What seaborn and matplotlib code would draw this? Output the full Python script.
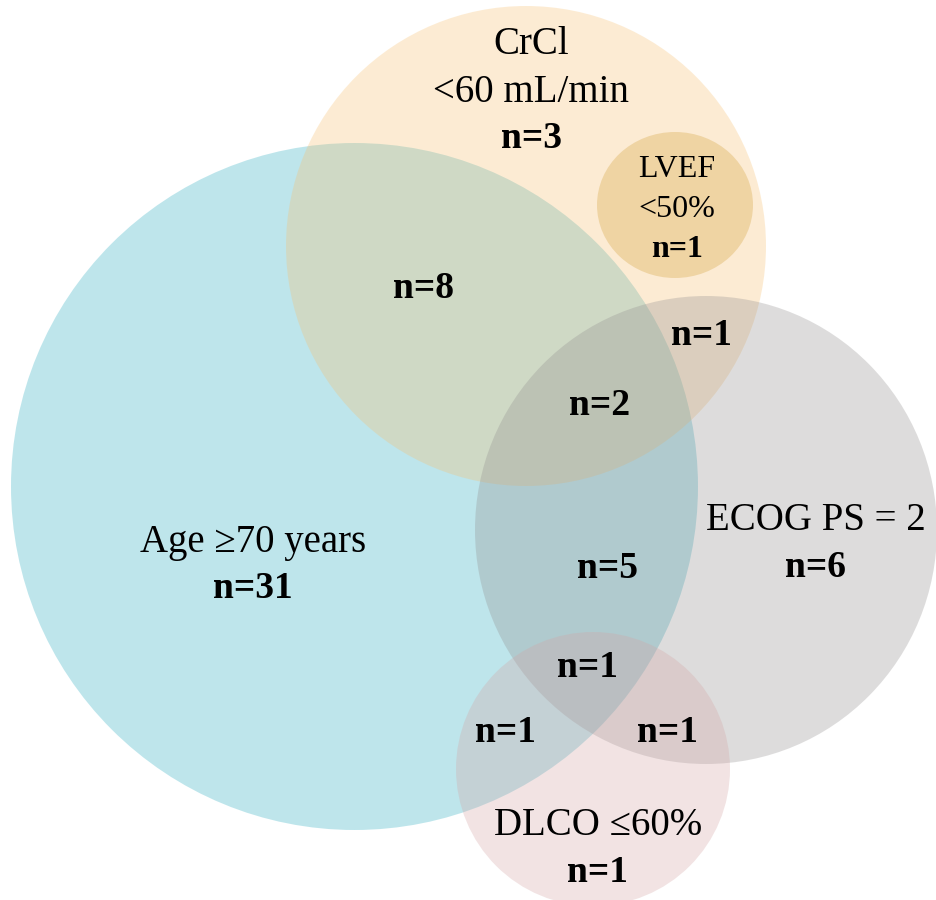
import matplotlib
matplotlib.use("Agg")
import matplotlib.pyplot as plt
from matplotlib.patches import Ellipse
import seaborn as sns

# ---------------- data ----------------
set_names = ["Age ≥70 years", "CrCl\n<60 mL/min", "LVEF\n<50%", "ECOG PS = 2", "DLCO ≤60%"]
set_only_counts = [31, 3, 1, 6, 1]
region_names = ["Age & CrCl", "CrCl & ECOG", "Age & CrCl & ECOG", "Age & ECOG",
                "Age & ECOG & DLCO", "Age & DLCO", "ECOG & DLCO"]
region_counts = [8, 1, 2, 5, 1, 1, 1]

# ---------------- layout (pixel coords, y down) ----------------
circle_xy = [(354.5, 486.5), (526, 246), (675, 205), (706, 530), (593, 769)]
circle_wh = [(687, 687), (480, 480), (156, 146), (462, 468), (274, 274)]
circle_colors = ["#2aacc0", "#f8c070", "#d29f37", "#918e8e", "#d4a5a5"]
circle_alpha = 0.30

# label baselines: (x, y_title_baseline, line_gap, y_count_baseline, fontsize title, fontsize count)
set_label_pos = [
    (253, 552, None, 598, 28, 27),
    (531, 54, 48, 148, 28, 27),
    (677, 177, 40, 257, 23, 23),
    (816, 530, None, 577, 28, 27),
    (598, 835, None, 882, 28, 27),
]
region_pos = [(424, 298), (702, 345), (600, 415), (607, 578), (588, 677), (506, 742), (667, 742)]

# ---------------- drawing ----------------
sns.set_theme(style="white")
plt.rcParams["font.family"] = ["Liberation Serif", "DejaVu Serif"]

fig = plt.figure(figsize=(9.36, 9.0), dpi=100)
ax = fig.add_axes([0, 0, 1, 1])
ax.set_xlim(0, 936)
ax.set_ylim(900, 0)
ax.axis("off")

for (cx, cy), (w, h), col in zip(circle_xy, circle_wh, circle_colors):
    ax.add_patch(Ellipse((cx, cy), w, h, facecolor=col, edgecolor="none", alpha=circle_alpha))

for name, cnt, (x, yb, gap, yc, fs1, fs2) in zip(set_names, set_only_counts, set_label_pos):
    lines = name.split("\n")
    if len(lines) == 1:
        ax.text(x, yb, lines[0], ha="center", va="baseline", fontsize=fs1, color="black")
    else:
        for i, ln in enumerate(lines):
            ax.text(x, yb + i * gap, ln, ha="center", va="baseline", fontsize=fs1, color="black")
    ax.text(x, yc, f"n={cnt}", ha="center", va="baseline", fontsize=fs2,
            fontweight="bold", color="black")

for cnt, (x, y) in zip(region_counts, region_pos):
    ax.text(x, y, f"n={cnt}", ha="center", va="baseline", fontsize=27,
            fontweight="bold", color="black")

fig.savefig("out.png", dpi=100)
